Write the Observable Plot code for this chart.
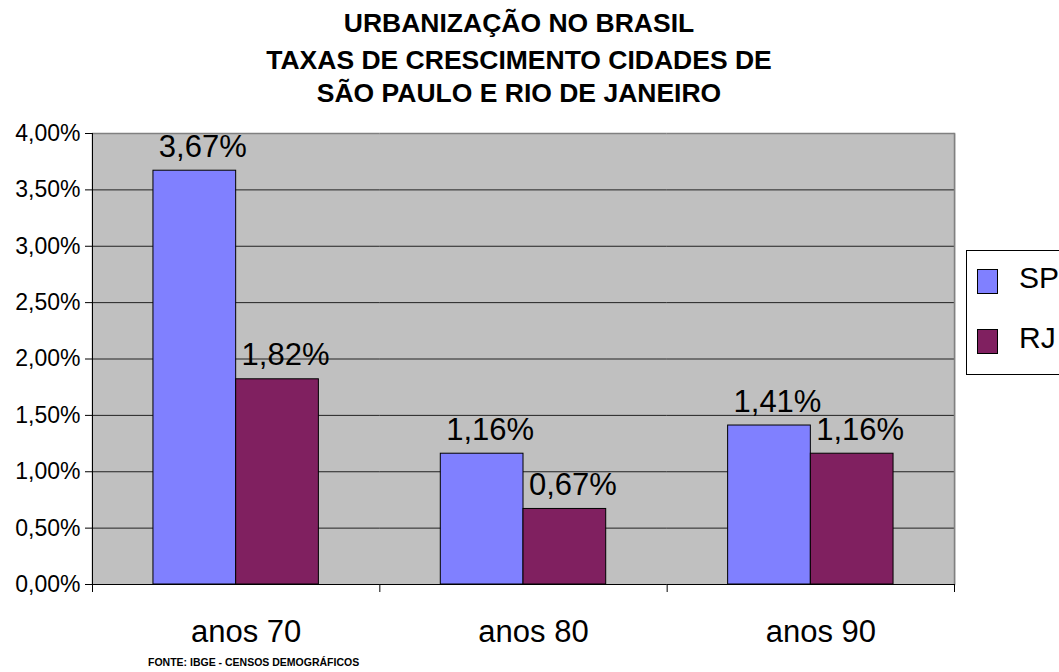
<!DOCTYPE html>
<html>
<head>
<meta charset="utf-8">
<script src="https://cdn.jsdelivr.net/npm/d3@7"></script>
<script src="https://cdn.jsdelivr.net/npm/@observablehq/plot@0.6"></script>
<style>
  html, body { margin: 0; padding: 0; background: #fff; }
  #wrap { position: relative; width: 1059px; height: 672px; overflow: hidden; font-family: "Liberation Sans", Arial, sans-serif; color: #000; }
  #wrap svg { position: absolute; left: 0; top: 0; }
  .title { position: absolute; left: 0; width: 1038px; text-align: center; font-weight: bold; font-size: 26.5px; line-height: 26px; white-space: nowrap; }
  .caption { position: absolute; left: 148px; top: 657px; font-weight: bold; font-size: 10.5px; line-height: 11px; white-space: nowrap; }
  .legend { position: absolute; left: 966px; top: 250px; width: 120px; height: 123px; border: 1px solid #000; background: #fff; }
  .sw { position: absolute; left: 10px; width: 21px; height: 25px; border: 1px solid #000; box-sizing: border-box; }
  .lab { position: absolute; left: 52px; font-size: 30px; line-height: 30px; white-space: nowrap; }
</style>
</head>
<body>
<div id="wrap"></div>
<script>
const titleLines = ["URBANIZAÇÃO NO BRASIL", "TAXAS DE CRESCIMENTO CIDADES DE", "SÃO PAULO E RIO DE JANEIRO"];
const caption = "FONTE: IBGE - CENSOS DEMOGRÁFICOS";
const categories = ["anos 70", "anos 80", "anos 90"];
const series = ["SP", "RJ"];
const spValues = [3.67, 1.16, 1.41];
const rjValues = [1.82, 0.67, 1.16];
const yTicks = [0, 0.5, 1, 1.5, 2, 2.5, 3, 3.5, 4];

const colors = ["#8080ff", "#802060"];
const fmt = v => v.toFixed(2).replace(".", ",") + "%";

const data = [];
categories.forEach((c, i) => {
  data.push({cat: c, serie: "SP", value: spValues[i]});
  data.push({cat: c, serie: "RJ", value: rjValues[i]});
});

const W = 1059, H = 672, mt = 133, mb = 88, ml = 92, mr = 105;
const plotH = H - mt - mb;

const chart = Plot.plot({
  width: W, height: H,
  marginTop: mt, marginBottom: mb, marginLeft: ml, marginRight: mr,
  style: {fontFamily: "'Liberation Sans', Arial, sans-serif", color: "#000", background: "transparent"},
  fx: {domain: categories, padding: 0, round: false, label: null, axis: null},
  x: {domain: series, paddingInner: 0, paddingOuter: 0.737, round: false, axis: null},
  y: {domain: [0, 4], axis: null},
  color: {domain: series, range: colors},
  marks: [
    Plot.frame({fill: "#c0c0c0", stroke: "none", insetLeft: -1, insetRight: -1, facetAnchor: null}),
    Plot.ruleY(yTicks.filter(t => t > 0 && t < 4), {stroke: "#222", strokeWidth: 1}),
    Plot.ruleY([4], {stroke: "#808080", strokeWidth: 1.5}),
    Plot.frame({anchor: "right", stroke: "#808080", strokeWidth: 1.5, facetAnchor: "right"}),
    Plot.barY(data, {fx: "cat", x: "serie", y: "value", fill: "serie", stroke: "#000", strokeWidth: 1}),
    Plot.ruleY([0], {stroke: "#000", strokeWidth: 1}),
    Plot.frame({anchor: "left", stroke: "#000", facetAnchor: "left"}),
    Plot.frame({anchor: "left", stroke: "#000", insetTop: plotH, insetBottom: -7}),
    Plot.frame({anchor: "right", stroke: "#000", insetTop: plotH, insetBottom: -7, facetAnchor: "right"}),
    Plot.axisY({ticks: yTicks, tickFormat: fmt, tickSize: 7, tickPadding: 5, fontSize: 23, label: null, stroke: "#000"}),
    Plot.axisFx({anchor: "bottom", tickSize: 0, tickPadding: 35, fontSize: 31, label: null, dx: 10}),
    Plot.text(data, {fx: "cat", x: "serie", y: "value", text: d => fmt(d.value), dy: -14, dx: 8, lineAnchor: "bottom", fontSize: 31, fill: "#000"})
  ]
});

const wrap = document.getElementById("wrap");
wrap.appendChild(chart);

const titleTops = [10, 47, 80];
titleLines.forEach((t, i) => {
  const d = document.createElement("div");
  d.className = "title";
  d.style.top = titleTops[i] + "px";
  d.textContent = t;
  wrap.appendChild(d);
});

const cap = document.createElement("div");
cap.className = "caption";
cap.textContent = caption;
wrap.appendChild(cap);

const leg = document.createElement("div");
leg.className = "legend";
series.forEach((s, i) => {
  const sw = document.createElement("div");
  sw.className = "sw";
  sw.style.top = (18 + i * 60) + "px";
  sw.style.background = colors[i];
  leg.appendChild(sw);
  const lb = document.createElement("div");
  lb.className = "lab";
  lb.style.top = (12 + i * 60) + "px";
  lb.textContent = s;
  leg.appendChild(lb);
});
wrap.appendChild(leg);
</script>
</body>
</html>
